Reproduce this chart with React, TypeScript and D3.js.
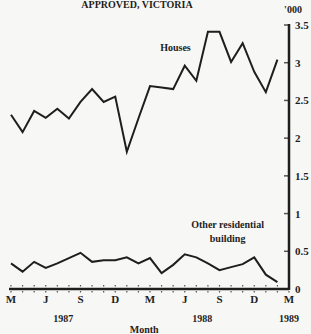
import React, { useEffect, useRef } from 'react';
import * as d3 from 'd3';

// months from Mar 1987 (index 0) to Mar 1989 (index 24)
const monthTicks = [0, 3, 6, 9, 12, 15, 18, 21, 24];
const monthLabels = ['M', 'J', 'S', 'D', 'M', 'J', 'S', 'D', 'M'];
const yearLabels = [
  { idx: 4.5, label: '1987' },
  { idx: 16.5, label: '1988' },
  { idx: 24, label: '1989' },
];
const yTicks = [0, 0.5, 1, 1.5, 2, 2.5, 3, 3.5];

// '000 dwelling units approved
const houses = [
  2.31, 2.08, 2.36, 2.27, 2.39, 2.26, 2.48, 2.65, 2.48, 2.55, 1.82, 2.26,
  2.69, 2.67, 2.65, 2.96, 2.76, 3.41, 3.41, 3.01, 3.26, 2.88, 2.61, 3.04,
];
const otherResidential = [
  0.34, 0.23, 0.36, 0.28, 0.34, 0.41, 0.48, 0.36, 0.38, 0.38, 0.42, 0.34,
  0.41, 0.21, 0.32, 0.46, 0.42, 0.34, 0.25, 0.29, 0.33, 0.42, 0.19, 0.09,
];

const W = 311;
const H = 334;
const FONT = '"Liberation Serif", "DejaVu Serif", serif';
const INK = '#1e1e1e';

export default function App() {
  const svgRef = useRef<SVGSVGElement>(null);

  useEffect(() => {
    if (!svgRef.current) return;
    const svg = d3.select(svgRef.current);
    svg.selectAll('*').remove();

    const x = d3.scaleLinear().domain([0, 24]).range([11, 289]);
    const y = d3.scaleLinear().domain([0, 3.5]).range([289, 25]);

    svg.append('rect').attr('width', W).attr('height', H).attr('fill', '#f7f7f5');

    // title
    svg.append('text')
      .attr('x', 137).attr('y', 8)
      .attr('text-anchor', 'middle')
      .attr('font-family', FONT).attr('font-weight', 'bold').attr('font-size', 10)
      .attr('fill', INK)
      .text('APPROVED, VICTORIA');

    // month minor ticks
    const months = d3.range(0, 25);
    svg.append('g').selectAll('line')
      .data(months)
      .enter()
      .append('line')
      .attr('x1', d => x(d)).attr('x2', d => x(d))
      .attr('y1', y(0) - 4).attr('y2', y(0) + 5)
      .attr('stroke', '#555')
      .attr('stroke-width', 1.2)
      .attr('stroke-dasharray', '1.5,1.5');

    // y minor ticks
    svg.append('g').selectAll('line')
      .data(yTicks)
      .enter()
      .append('line')
      .attr('x1', x(24) - 5).attr('x2', x(24))
      .attr('y1', d => y(d)).attr('y2', d => y(d))
      .attr('stroke', '#555')
      .attr('stroke-width', 1.5);

    // axes lines
    svg.append('line')
      .attr('x1', x(0) - 2).attr('x2', x(24))
      .attr('y1', y(0)).attr('y2', y(0))
      .attr('stroke', INK).attr('stroke-width', 2.5);
    svg.append('line')
      .attr('x1', x(24)).attr('x2', x(24))
      .attr('y1', y(3.5) - 1).attr('y2', y(0) + 1)
      .attr('stroke', INK).attr('stroke-width', 2.5);

    // y labels
    svg.append('g').selectAll('text')
      .data(yTicks)
      .enter()
      .append('text')
      .attr('x', x(24) + 6)
      .attr('y', d => y(d) + 4)
      .attr('font-family', FONT).attr('font-size', 11).attr('font-weight', 'bold')
      .attr('fill', INK)
      .text(d => String(d));
    svg.append('text')
      .attr('x', x(24) + 4).attr('y', 13)
      .attr('text-anchor', 'middle')
      .attr('font-family', FONT).attr('font-size', 10).attr('font-weight', 'bold')
      .attr('fill', INK)
      .text("'000");

    // month labels
    svg.append('g').selectAll('text')
      .data(monthTicks)
      .enter()
      .append('text')
      .attr('x', d => x(d))
      .attr('y', y(0) + 14)
      .attr('text-anchor', 'middle')
      .attr('font-family', FONT).attr('font-size', 11).attr('font-weight', 'bold')
      .attr('fill', INK)
      .text((d, i) => monthLabels[i]);

    svg.append('g').selectAll('text')
      .data(yearLabels)
      .enter()
      .append('text')
      .attr('x', d => x(d.idx))
      .attr('y', y(0) + 33)
      .attr('text-anchor', 'middle')
      .attr('font-family', FONT).attr('font-size', 10).attr('font-weight', 'bold')
      .attr('fill', INK)
      .text(d => d.label);

    svg.append('text')
      .attr('x', x(11.5)).attr('y', y(0) + 44)
      .attr('text-anchor', 'middle')
      .attr('font-family', FONT).attr('font-size', 10).attr('font-weight', 'bold')
      .attr('fill', INK)
      .text('Month');

    // series
    const line = d3.line<number>()
      .x((d, i) => x(i))
      .y(d => y(d));

    [houses, otherResidential].forEach(s => {
      svg.append('path')
        .datum(s)
        .attr('d', line)
        .attr('fill', 'none')
        .attr('stroke', INK)
        .attr('stroke-width', 2)
        .attr('stroke-linejoin', 'miter');
    });

    // series labels
    svg.append('text')
      .attr('x', x(14.2)).attr('y', y(3.15))
      .attr('text-anchor', 'middle')
      .attr('font-family', FONT).attr('font-size', 10).attr('font-weight', 'bold')
      .attr('fill', INK)
      .text('Houses');

    const other = svg.append('text')
      .attr('text-anchor', 'middle')
      .attr('font-family', FONT).attr('font-size', 10).attr('font-weight', 'bold')
      .attr('fill', INK);
    other.append('tspan').attr('x', x(18.7)).attr('y', y(0.81)).text('Other residential');
    other.append('tspan').attr('x', x(18.7)).attr('y', y(0.62)).text('building');
  }, []);

  return (
    <div style={{ position: 'absolute', left: 0, top: 0 }}>
      <svg ref={svgRef} width={W} height={H} style={{ display: 'block' }} />
    </div>
  );
}
